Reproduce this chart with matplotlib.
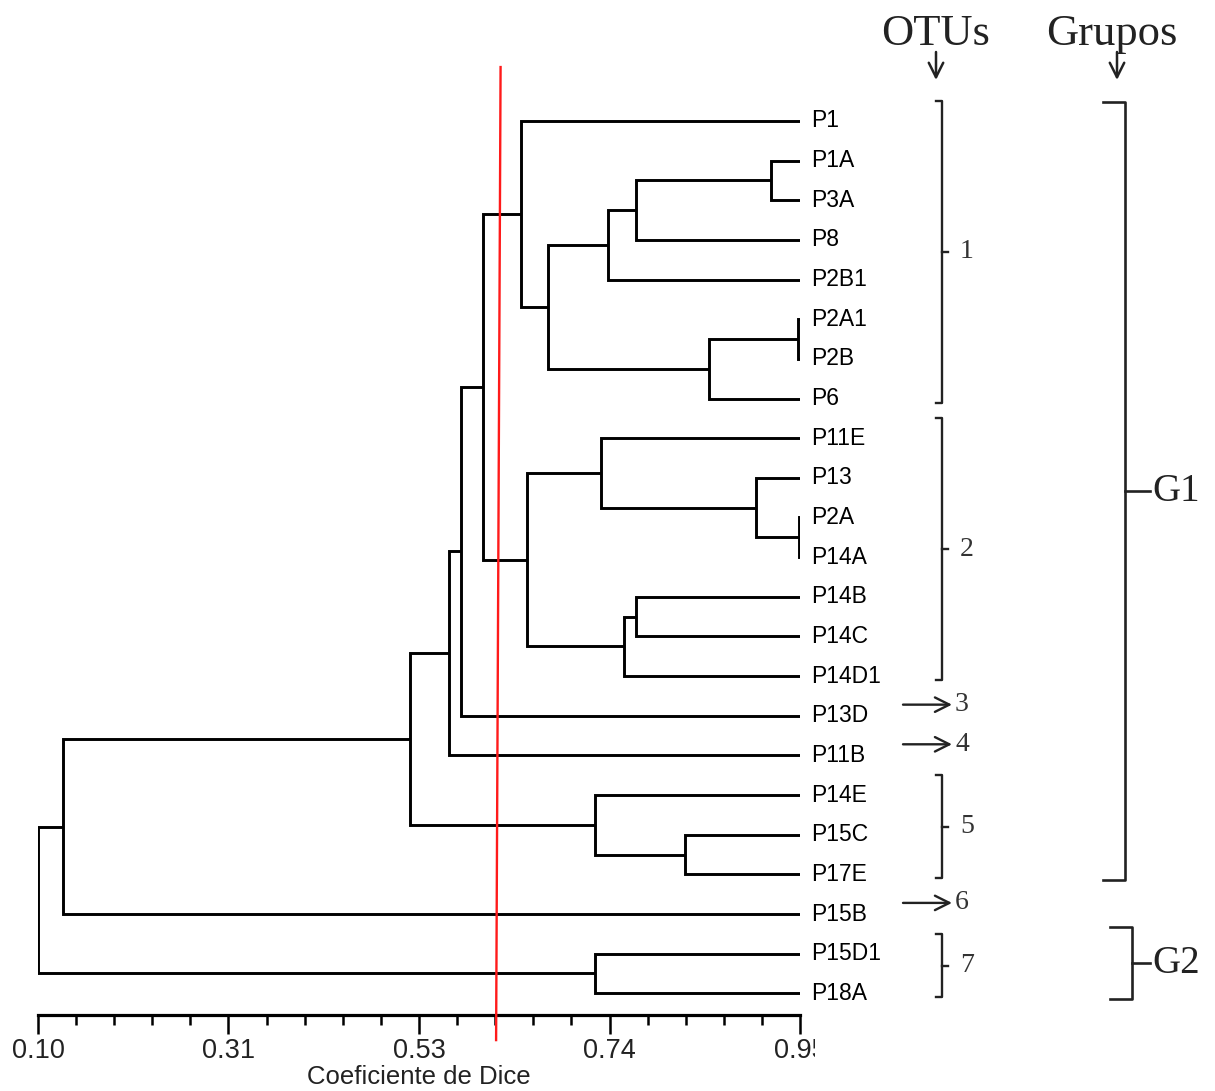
import matplotlib.pyplot as plt
from matplotlib.patches import Rectangle
from matplotlib.transforms import IdentityTransform
import numpy as np

# leaves, top to bottom
leaves = ['P1', 'P1A', 'P3A', 'P8', 'P2B1', 'P2A1', 'P2B', 'P6', 'P11E', 'P13',
          'P2A', 'P14A', 'P14B', 'P14C', 'P14D1', 'P13D', 'P11B', 'P14E', 'P15C',
          'P17E', 'P15B', 'P15D1', 'P18A']

# merges: (child a, child b, Dice similarity); merged node k is named 'n<k+1>'
merges = [
    ('P1A', 'P3A', 0.918),
    ('n1', 'P8', 0.767),
    ('n2', 'P2B1', 0.736),
    ('P2A1', 'P2B', 0.948),
    ('n4', 'P6', 0.848),
    ('n3', 'n5', 0.669),
    ('P1', 'n6', 0.639),
    ('P2A', 'P14A', 0.949),
    ('P13', 'n8', 0.901),
    ('P11E', 'n9', 0.728),
    ('P14B', 'P14C', 0.767),
    ('n11', 'P14D1', 0.754),
    ('n10', 'n12', 0.645),
    ('n7', 'n13', 0.596),
    ('n14', 'P13D', 0.572),
    ('n15', 'P11B', 0.558),
    ('P15C', 'P17E', 0.822),
    ('P14E', 'n17', 0.721),
    ('n16', 'n18', 0.515),
    ('n19', 'P15B', 0.128),
    ('P15D1', 'P18A', 0.721),
    ('n20', 'n21', 0.100),
]

leaf_sim = 0.95
cutoff_top = 0.616
cutoff_bottom = 0.611

xticks = [0.10, 0.3125, 0.525, 0.7375, 0.95]
xticklabels = ['0.10', '0.31', '0.53', '0.74', '0.95']

# OTU brackets (first leaf, last leaf, label), single-leaf OTUs, groups
otu_brackets = [(0, 7, '1'), (8, 14, '2'), (17, 19, '5'), (21, 22, '7')]
otu_single = [(15, '3'), (16, '4'), (20, '6')]
groups = [(0, 19, 'G1'), (21, 22, 'G2')]

W, H = 1215, 1091
fig = plt.figure(figsize=(W / 100, H / 100), dpi=100)
ax = fig.add_axes([38 / W, (H - 1015) / H, 762 / W, (1015 - 60) / H])

sans = 'Liberation Sans'
serif = 'Liberation Serif'

pos = {name: (leaf_sim, i) for i, name in enumerate(leaves)}
for k, (a, b, h) in enumerate(merges):
    xa, ya = pos[a]
    xb, yb = pos[b]
    ax.plot([xa, h, h, xb], [ya, ya, yb, yb], color='black', lw=2.1,
            solid_joinstyle='miter', solid_capstyle='butt')
    pos['n%d' % (k + 1)] = (h, (ya + yb) / 2)

for i, name in enumerate(leaves):
    ax.annotate(name, (leaf_sim, i), xytext=(8, 0), textcoords='offset points',
                va='center', ha='left', fontsize=16.5, family=sans)

ax.plot([cutoff_top, cutoff_bottom], [-1.36, 23.18], color='#ff1a1a', lw=1.7,
        clip_on=False, zorder=5)

ax.set_xlim(0.10, 0.95)
ax.set_ylim(22.547, -1.538)
for s in ['top', 'right', 'left']:
    ax.spines[s].set_visible(False)
ax.spines['bottom'].set_linewidth(2.3)
ax.set_yticks([])
ax.set_xticks(xticks)
ax.set_xticklabels(xticklabels, fontsize=19.5, family=sans, color='#222222')
ax.set_xticks(np.arange(0.10, 0.951, 0.0425), minor=True)
ax.tick_params(axis='x', which='major', length=13.5, width=1.8, pad=3)
ax.tick_params(axis='x', which='minor', length=7, width=1.8)
ax.set_xlabel('Coeficiente de Dice', fontsize=18.5, family=sans, labelpad=1,
              color='#222222')

# last tick label is cut off in the original
clip = Rectangle((0, 0), 815, H, transform=IdentityTransform())
lbl = ax.get_xticklabels()[-1]
lbl.set_clip_on(True)
lbl.set_clip_path(clip)

# annotation helpers: x in figure pixels -> axes fraction, y in leaf units
tr = ax.get_yaxis_transform()


def fx(px):
    return (px - 38) / 762


def bracket(x_px, top, bottom, hook, tick, lw=1.7):
    ax.plot([fx(x_px - hook), fx(x_px), fx(x_px), fx(x_px - hook)],
            [top, top, bottom, bottom], transform=tr, color='#222222', lw=lw,
            clip_on=False)
    mid = (top + bottom) / 2
    ax.plot([fx(x_px), fx(x_px + tick)], [mid, mid], transform=tr,
            color='#222222', lw=lw, clip_on=False)
    return mid


for a, b, lab in otu_brackets:
    mid = bracket(942, a - 0.5, b + 0.1, 6, 6)
    ax.text(fx(960), mid, lab, transform=tr, fontsize=20, family=serif,
            va='center', ha='left', color='#333333')

for i, lab in otu_single:
    y = i - 0.28
    ax.annotate('', xy=(fx(952), y), xytext=(fx(903), y), xycoords=tr,
                textcoords=tr, annotation_clip=False,
                arrowprops=dict(arrowstyle='->', lw=1.7, color='#222222',
                                mutation_scale=26, shrinkA=0, shrinkB=0))
    ax.text(fx(955), y, lab, transform=tr, fontsize=20, family=serif,
            va='center', ha='left', color='#333333')

gx = {'G1': 1125, 'G2': 1132}
for a, b, lab in groups:
    top = a - (0.48 if lab == 'G1' else 0.67)
    mid = bracket(gx[lab], top, b + 0.15, 22, 25 if lab == 'G1' else 18, lw=1.9)
    ax.text(fx(gx[lab] + (27 if lab == 'G1' else 20)), mid, lab, transform=tr,
            fontsize=28, family=serif, va='center', ha='left', color='#222222')

# headers
fig.text(936 / W, 1 - 45 / H, 'OTUs', fontsize=32, family=serif, ha='center',
         va='baseline', color='#222222')
fig.text(1112 / W, 1 - 45 / H, 'Grupos', fontsize=32, family=serif, ha='center',
         va='baseline', color='#222222')
for xp in [936, 1117]:
    ax.annotate('', xy=(xp, H - 80), xytext=(xp, H - 52),
                xycoords='figure pixels', textcoords='figure pixels',
                annotation_clip=False,
                arrowprops=dict(arrowstyle='->', lw=1.8, color='#222222',
                                mutation_scale=26, shrinkA=0, shrinkB=0))

fig.savefig('out.png', dpi=100)
